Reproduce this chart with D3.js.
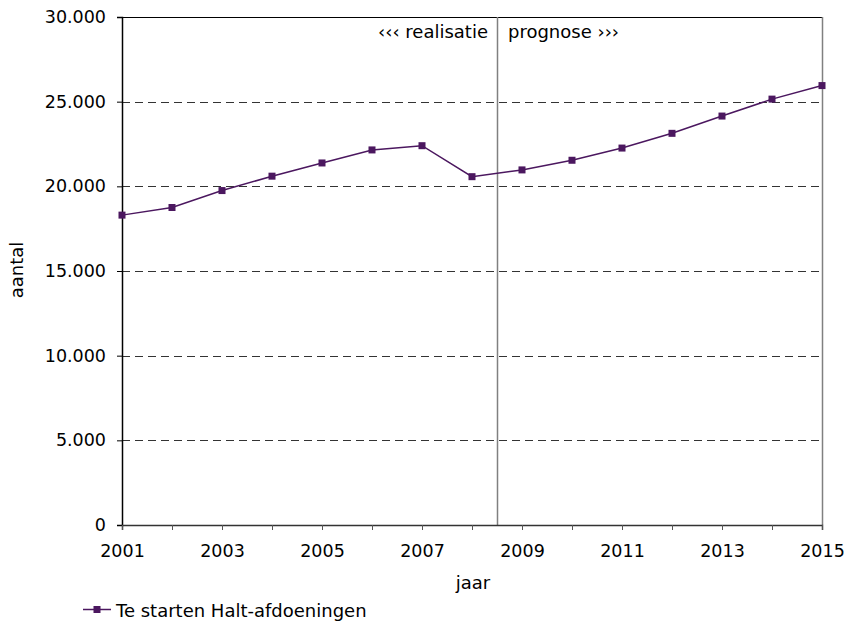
<!DOCTYPE html>
<html><head><meta charset="utf-8">
<script src="https://cdn.jsdelivr.net/npm/d3@7"></script>
<style>body{margin:0;background:#fff}svg{display:block}text{font-family:"DejaVu Sans",Verdana,sans-serif;fill:#000}</style>
</head><body><svg id="c" width="847" height="623"></svg>
<script>
const years = [2001,2002,2003,2004,2005,2006,2007,2008,2009,2010,2011,2012,2013,2014,2015];
const values = [18300,18750,19750,20600,21380,22150,22400,20570,20970,21540,22260,23130,24150,25150,25950];
const xTickLabels = [2001,2003,2005,2007,2009,2011,2013,2015];
const yTicks = [0,5000,10000,15000,20000,25000,30000];
const seriesName = "Te starten Halt-afdoeningen";
const splitYear = 2008.5;
const color = "#4B175F";

const svg = d3.select("#c");
const L=122, R=822, T=17, B=525;
const x = d3.scaleLinear().domain([2001,2015]).range([L,R]);
const y = d3.scaleLinear().domain([0,30000]).range([B,T]);
const fmt = v => d3.format(",")(v).replace(/,/g,".");
const fs = 17.5;
const ls = 18;

// grid
svg.append("g").selectAll("line").data(yTicks.filter(v=>v>0&&v<30000)).join("line")
  .attr("x1",L).attr("x2",R).attr("y1",d=>Math.round(y(d))+0.5).attr("y2",d=>Math.round(y(d))+0.5)
  .attr("stroke","#333").attr("stroke-dasharray","8,5").attr("stroke-width",1);
// top border
svg.append("line").attr("x1",L).attr("x2",R).attr("y1",T+0.5).attr("y2",T+0.5).attr("stroke","#000");
// right border
svg.append("line").attr("x1",R+0.5).attr("x2",R+0.5).attr("y1",T).attr("y2",B).attr("stroke","#808080").attr("stroke-width",1.5);
// split line
svg.append("line").attr("x1",Math.round(x(splitYear))+0.5).attr("x2",Math.round(x(splitYear))+0.5).attr("y1",T).attr("y2",B).attr("stroke","#808080").attr("stroke-width",1.5);

// y axis
const yAxis = d3.axisLeft(y).tickValues(yTicks).tickFormat(fmt).tickSize(5).tickPadding(11);
const gy = svg.append("g").attr("transform",`translate(${L},0)`).call(yAxis);
gy.select(".domain").attr("stroke","#000").attr("stroke-width",1.5);
gy.selectAll("text").style("font-size",fs+"px").style("font-family","DejaVu Sans, Verdana, sans-serif").attr("fill","#000");

// x axis
const xAxis = d3.axisBottom(x).tickValues(years).tickFormat(d=>xTickLabels.includes(d)?String(d):"").tickSize(5).tickPadding(15);
const gx = svg.append("g").attr("transform",`translate(0,${B})`).call(xAxis);
gx.select(".domain").attr("stroke","#333").attr("stroke-width",1.5);
gx.selectAll(".tick line").attr("stroke","#555");
gx.selectAll("text").style("font-size",fs+"px").style("font-family","DejaVu Sans, Verdana, sans-serif").attr("fill","#000");

// annotations
svg.append("text").attr("x",x(splitYear)-9).attr("y",38).attr("text-anchor","end").style("font-size",ls+"px").text("‹‹‹ realisatie");
svg.append("text").attr("x",x(splitYear)+11).attr("y",38).attr("text-anchor","start").style("font-size",ls+"px").text("prognose ›››");

// line
const line = d3.line().x((d,i)=>x(years[i])).y(d=>y(d));
svg.append("path").datum(values).attr("d",line).attr("fill","none").attr("stroke",color).attr("stroke-width",1.5);
svg.append("g").selectAll("rect").data(values).join("rect")
  .attr("x",(d,i)=>x(years[i])-3.5).attr("y",d=>y(d)-3.5).attr("width",7).attr("height",7).attr("fill",color);

// axis titles
svg.append("text").attr("transform","translate(23,270) rotate(-90)").attr("text-anchor","middle").style("font-size",ls+"px").text("aantal");
svg.append("text").attr("x",473).attr("y",589).attr("text-anchor","middle").style("font-size",ls+"px").text("jaar");

// legend
svg.append("line").attr("x1",83).attr("x2",111).attr("y1",609.5).attr("y2",609.5).attr("stroke",color).attr("stroke-width",1.5);
svg.append("rect").attr("x",97-3.5).attr("y",609.5-3.5).attr("width",7).attr("height",7).attr("fill",color);
svg.append("text").attr("x",116).attr("y",617).style("font-size",ls+"px").text(seriesName);
</script></body></html>
